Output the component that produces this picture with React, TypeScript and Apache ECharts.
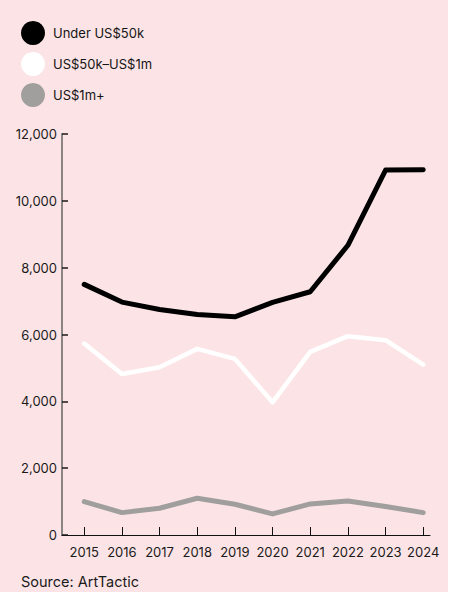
import React, { useEffect, useRef } from "react";
import * as echarts from "echarts";

const years = [2015, 2016, 2017, 2018, 2019, 2020, 2021, 2022, 2023, 2024];
const underLabel = "Under US$50k";
const midLabel = "US$50k–US$1m";
const topLabel = "US$1m+";
const under50k = [7500, 6970, 6750, 6600, 6530, 6960, 7280, 8670, 10920, 10930];
const mid50kTo1m = [5730, 4820, 5020, 5570, 5270, 3970, 5480, 5950, 5830, 5100];
const over1m = [1000, 670, 800, 1100, 920, 630, 930, 1020, 850, 670];
const yTicks = [0, 2000, 4000, 6000, 8000, 10000, 12000];
const sourceText = "Source: ArtTactic";

const FONT = "Inter, 'Noto Sans', sans-serif";

export default function App() {
  const ref = useRef<HTMLDivElement>(null);
  useEffect(() => {
    if (!ref.current) return;
    const chart = echarts.init(ref.current, undefined, { renderer: "svg" });
    const mk = (arr: number[]) => arr.map((v, i) => [years[i], v]);
    chart.setOption({
      animation: false,
      backgroundColor: "#fce4e6",
      textStyle: { fontFamily: FONT },
      legend: {
        orient: "vertical",
        left: 21,
        top: 21,
        padding: 0,
        icon: "circle",
        itemWidth: 24,
        itemHeight: 24,
        itemGap: 7,
        textStyle: { fontSize: 13, color: "#151515", fontFamily: FONT, padding: [0, 0, 0, 3] },
        data: [underLabel, midLabel, topLabel],
        selectedMode: false,
      },
      grid: { left: 62, top: 134, right: 18, bottom: 57, containLabel: false },
      xAxis: {
        type: "value",
        min: 2014.41,
        max: 2024.18,
        splitLine: { show: false },
        axisLine: { show: true, lineStyle: { color: "#111", width: 1 } },
        axisTick: { show: true, inside: true, length: 8, customValues: years, lineStyle: { color: "#111", width: 1 } },
        axisLabel: {
          customValues: years,
          margin: 10,
          fontSize: 13,
          color: "#1a1a1a",
          fontFamily: FONT,
          formatter: (v: number) => String(Math.round(v)),
        },
      },
      yAxis: {
        type: "value",
        min: yTicks[0],
        max: yTicks[yTicks.length - 1],
        interval: 2000,
        splitLine: { show: false },
        axisLine: { show: true, lineStyle: { color: "#8c8383", width: 2 } },
        axisTick: { show: true, inside: true, length: 6, lineStyle: { color: "#1a1a1a", width: 1.5 } },
        axisLabel: {
          margin: 5,
          fontSize: 13,
          color: "#1a1a1a",
          fontFamily: FONT,
          formatter: (v: number) => v.toLocaleString("en-US"),
        },
      },
      series: [
        {
          name: underLabel,
          type: "line",
          data: mk(under50k),
          showSymbol: false,
          color: "#000000",
          itemStyle: { color: "#000000" },
          lineStyle: { width: 5, color: "#000000", cap: "round", join: "round" },
          z: 3,
        },
        {
          name: midLabel,
          type: "line",
          data: mk(mid50kTo1m),
          showSymbol: false,
          color: "#ffffff",
          itemStyle: { color: "#ffffff" },
          lineStyle: { width: 4.5, color: "#ffffff", cap: "round", join: "round" },
          z: 2,
        },
        {
          name: topLabel,
          type: "line",
          data: mk(over1m),
          showSymbol: false,
          color: "#a09f9d",
          itemStyle: { color: "#a09f9d" },
          lineStyle: { width: 5, color: "#a09f9d", cap: "round", join: "round" },
          z: 1,
        },
      ],
      graphic: [
        {
          type: "text",
          left: 21,
          top: 574,
          style: { text: sourceText, fontSize: 14.5, fill: "#1a1a1a", fontFamily: FONT },
        },
      ],
    });
    return () => chart.dispose();
  }, []);
  return (
    <div style={{ position: "absolute", left: 0, top: 0, width: 459, height: 592, background: "#ffffff" }}>
      <div ref={ref} style={{ width: 448, height: 592 }} />
    </div>
  );
}
